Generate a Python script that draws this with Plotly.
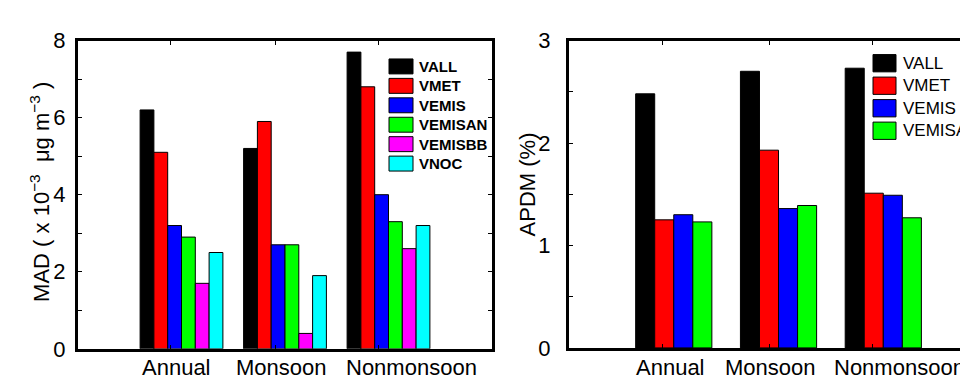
import plotly.graph_objects as go

W, H = 968, 380

categories = ["Annual", "Monsoon", "Nonmonsoon"]
group_x = [1, 2, 3]

# Left panel: MAD (x 10^-3 ug m^-3)
mad_series = ["VALL", "VMET", "VEMIS", "VEMISAN", "VEMISBB", "VNOC"]
mad_vall = [6.2, 5.2, 7.7]
mad_vmet = [5.1, 5.9, 6.8]
mad_vemis = [3.2, 2.7, 4.0]
mad_vemisan = [2.9, 2.7, 3.3]
mad_vemisbb = [1.7, 0.4, 2.6]
mad_vnoc = [2.5, 1.9, 3.2]
mad_values = [mad_vall, mad_vmet, mad_vemis, mad_vemisan, mad_vemisbb, mad_vnoc]

# Right panel: APDM (%)
apdm_series = ["VALL", "VMET", "VEMIS", "VEMISAN"]
apdm_vall = [2.48, 2.70, 2.73]
apdm_vmet = [1.25, 1.93, 1.51]
apdm_vemis = [1.30, 1.36, 1.49]
apdm_vemisan = [1.23, 1.39, 1.27]
apdm_values = [apdm_vall, apdm_vmet, apdm_vemis, apdm_vemisan]

colors = ["#000000", "#ff0000", "#0000ff", "#00ff00", "#ff00ff", "#00ffff"]

top_ticks = [0.89, 1.91, 2.9]

FONT = "Liberation Sans, Arial, sans-serif"
FS = 22

fig = go.Figure()

n_l = len(mad_series)
gw_l = 0.8
bw_l = gw_l / n_l
for i, (name, vals, col) in enumerate(zip(mad_series, mad_values, colors)):
    fig.add_trace(go.Bar(x=group_x, y=vals, name=name, marker_color=col,
                         marker_line=dict(color="black", width=1),
                         width=bw_l, offset=-gw_l / 2 + i * bw_l,
                         xaxis="x", yaxis="y", showlegend=False))

n_r = len(apdm_series)
gw_r = n_r / (n_r + 1.5)
bw_r = gw_r / n_r
for i, (name, vals, col) in enumerate(zip(apdm_series, apdm_values, colors)):
    fig.add_trace(go.Bar(x=group_x, y=vals, name=name, marker_color=col,
                         marker_line=dict(color="black", width=1),
                         width=bw_r, offset=-gw_r / 2 + i * bw_r,
                         xaxis="x2", yaxis="y2", showlegend=False))

def px_x(p):
    return p / W

def px_y(p):
    return (H - p) / H

L_X0, L_X1 = 70, 484
R_X0, R_X1 = 561, 968
T_Y, B_Y = 22, 352
RB_Y = 351

axis_common = dict(showline=True, linecolor="black", linewidth=3, ticks="inside",
                   tickcolor="black", ticklen=4, tickwidth=1, showgrid=False, zeroline=False,
                   tickfont=dict(family=FONT, size=FS, color="black"))

fig.update_layout(
    width=W, height=H, margin=dict(l=0, r=0, t=0, b=0),
    paper_bgcolor="white", plot_bgcolor="white",
    barmode="overlay",
    showlegend=False,
    xaxis=dict(domain=[px_x(L_X0), px_x(L_X1)], range=[0, 4], tickvals=top_ticks,
               showticklabels=False, mirror="ticks", anchor="y", **axis_common),
    yaxis=dict(domain=[px_y(B_Y), px_y(T_Y)], range=[0, 8], dtick=2, tick0=0,
               minor=dict(dtick=1, ticks="inside", ticklen=4, tickcolor="black", tickwidth=1),
               mirror="ticks", anchor="x", ticklabelstandoff=5, **axis_common),
    xaxis2=dict(domain=[px_x(R_X0), px_x(R_X1)], range=[0, 3.885], tickvals=top_ticks,
                showticklabels=False, mirror="ticks", anchor="y2", **axis_common),
    yaxis2=dict(domain=[px_y(RB_Y), px_y(T_Y)], range=[0, 3], dtick=1, tick0=0,
                minor=dict(dtick=0.5, ticks="inside", ticklen=4, tickcolor="black", tickwidth=1),
                mirror=False, anchor="x2", ticklabelstandoff=11, **axis_common),
)

shapes = []
annotations = []

# category labels
left_label_px = [168, 273, 403]
right_label_px = [662, 762.5, 891.6]
for cat, lx, rx in zip(categories, left_label_px, right_label_px):
    for xx in (lx, rx):
        annotations.append(dict(text=cat, x=px_x(xx), y=px_y(356), xref="paper", yref="paper",
                                xanchor="center", yanchor="top", showarrow=False,
                                font=dict(family=FONT, size=FS, color="black")))

# axis titles
annotations.append(dict(text="MAD ( x 10<sup>\u22123</sup>  \u03bcg m<sup>\u22123</sup> )",
                        x=px_x(32), y=px_y(184), xref="paper", yref="paper", textangle=-90,
                        xanchor="center", yanchor="middle", showarrow=False,
                        font=dict(family=FONT, size=FS, color="black")))
annotations.append(dict(text="APDM (%)", x=px_x(519), y=px_y(176), xref="paper", yref="paper",
                        textangle=-90, xanchor="center", yanchor="middle", showarrow=False,
                        font=dict(family=FONT, size=FS, color="black")))

# custom legends
def add_legend(names, x0, x1, top0, step, h, tx, fsize, bold):
    for i, nm in enumerate(names):
        t = top0 + i * step
        shapes.append(dict(type="rect", xref="paper", yref="paper",
                           x0=px_x(x0), x1=px_x(x1), y0=px_y(t + h), y1=px_y(t),
                           fillcolor=colors[i], line=dict(color="black", width=1)))
        annotations.append(dict(text=("<b>%s</b>" % nm) if bold else nm,
                                x=px_x(tx), y=px_y(t + h / 2), xref="paper", yref="paper",
                                xanchor="left", yanchor="middle", showarrow=False,
                                font=dict(family=FONT, size=fsize, color="black")))

add_legend(mad_series, 381, 405, 41.7, 20.8, 16, 409, 15, True)
add_legend(apdm_series, 865, 888, 37, 24.1, 18.5, 893, 17, False)

fig.update_layout(shapes=shapes, annotations=annotations)

fig.write_html("out.html")
